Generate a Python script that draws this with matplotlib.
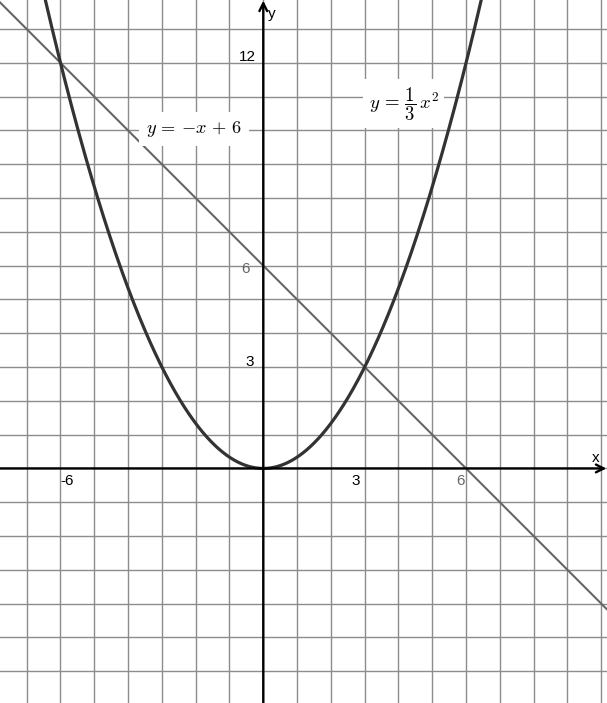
import numpy as np
import matplotlib.pyplot as plt

# данные графиков
parab_coef = 1 / 3          # y = a x^2
line_slope = -1             # y = k x + b
line_icept = 6

x_ticks = [-6, 3, 6]
y_ticks = [3, 6, 12]
gray_ticks = [6]

xlim = (-7.79, 10.17)
ylim = (-6.94, 13.86)

plt.rcParams['mathtext.fontset'] = 'cm'

fig = plt.figure(figsize=(6.07, 7.03), dpi=100)
ax = fig.add_axes([0, 0, 1, 1])
ax.set_xlim(*xlim)
ax.set_ylim(*ylim)
ax.axis('off')

# сетка
for gx in range(int(np.floor(xlim[0])), int(np.ceil(xlim[1])) + 1):
    ax.axvline(gx, color='#8c8c8c', lw=1.0, zorder=1)
for gy in range(int(np.floor(ylim[0])), int(np.ceil(ylim[1])) + 1):
    ax.axhline(gy, color='#8c8c8c', lw=1.0, zorder=1)

# оси со стрелками
ax.annotate('', xy=(xlim[1] - 0.02, 0), xytext=(xlim[0], 0),
            arrowprops=dict(arrowstyle='->', color='black', lw=1.7,
                            shrinkA=0, shrinkB=0, mutation_scale=14), zorder=3)
ax.annotate('', xy=(0, ylim[1] - 0.02), xytext=(0, ylim[0]),
            arrowprops=dict(arrowstyle='->', color='black', lw=1.7,
                            shrinkA=0, shrinkB=0, mutation_scale=14), zorder=3)
ax.text(xlim[1] - 0.45, 0.1, 'x', fontsize=11, ha='left', va='bottom',
        family='Liberation Sans', zorder=4)
ax.text(0.15, ylim[1] - 0.2, 'y', fontsize=11, ha='left', va='top',
        family='Liberation Sans', zorder=4)

# подписи делений
x_lab_off = {-6: 0.01, 3: -0.38, 6: -0.30}
for t in x_ticks:
    c = '#666666' if t in gray_ticks else 'black'
    ax.text(t + x_lab_off[t], -0.49, str(t), fontsize=11, ha='left', va='baseline',
            color=c, family='Liberation Sans', zorder=4)
y_lab_pos = {3: (-0.27, 0.03), 6: (-0.39, -0.22), 12: (-0.22, 0.05)}
for t in y_ticks:
    c = '#666666' if t in gray_ticks else 'black'
    dx, dy = y_lab_pos[t]
    ax.text(dx, t + dy, str(t), fontsize=11, ha='right', va='baseline',
            color=c, family='Liberation Sans', zorder=4)

# функции
xs = np.linspace(xlim[0], xlim[1], 800)
ax.plot(xs, line_slope * xs + line_icept, color='#666666', lw=1.5, zorder=2)
xp = np.linspace(-6.6, 6.6, 800)
ax.plot(xp, parab_coef * xp ** 2, color='#333333', lw=2.3, zorder=2)

ax.text(-2.05, 10.04, r'$y\,=\,{-x}\,+\,6$', fontsize=13.2, ha='center', va='center',
        bbox=dict(facecolor='white', edgecolor='none', pad=5), zorder=5)
ax.text(4.16, 10.79, r'$y\,=\,\dfrac{1}{3}\,x^2$', fontsize=13.5, ha='center', va='center',
        bbox=dict(facecolor='white', edgecolor='none', pad=4), zorder=5)

fig.savefig('out.png', dpi=100)
